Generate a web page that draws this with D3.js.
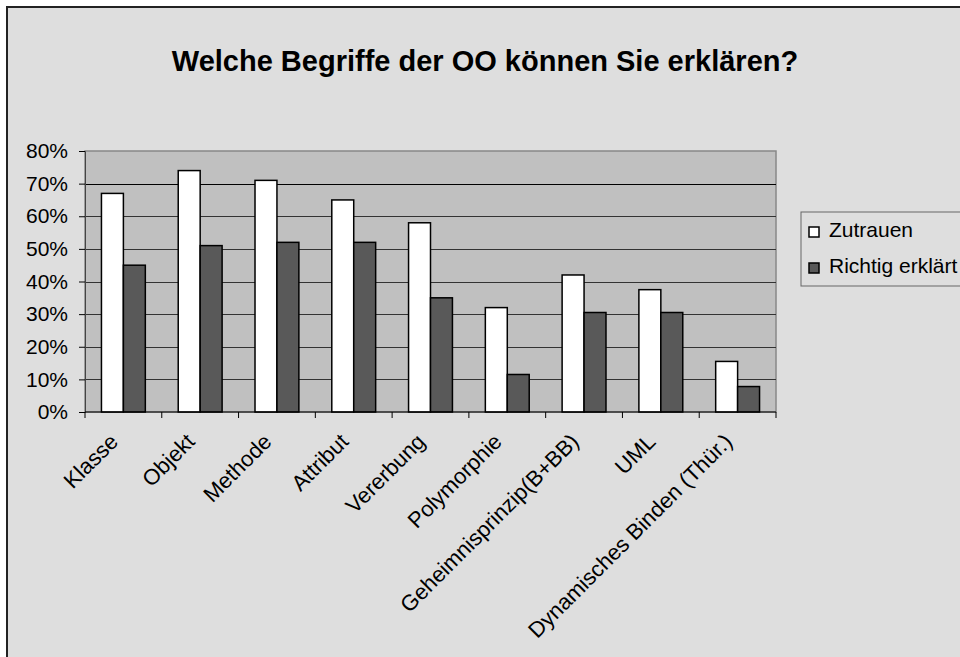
<!DOCTYPE html>
<html>
<head>
<meta charset="utf-8">
<script src="https://cdn.jsdelivr.net/npm/d3@7"></script>
<style>
  html, body { margin: 0; padding: 0; background: #ffffff; }
  svg { display: block; font-family: "Liberation Sans", Arial, sans-serif; }
</style>
</head>
<body>
<svg id="chart" width="960" height="657"></svg>
<script>
const title = "Welche Begriffe der OO können Sie erklären?";
const categories = ["Klasse", "Objekt", "Methode", "Attribut", "Vererbung", "Polymorphie",
  "Geheimnisprinzip(B+BB)", "UML", "Dynamisches Binden (Thür.)"];
const seriesNames = ["Zutrauen", "Richtig erklärt"];
const zutrauen = [0.67, 0.74, 0.71, 0.65, 0.58, 0.32, 0.42, 0.375, 0.155];
const richtig = [0.45, 0.51, 0.52, 0.52, 0.35, 0.115, 0.305, 0.305, 0.078];
const yTicks = [0, 0.1, 0.2, 0.3, 0.4, 0.5, 0.6, 0.7, 0.8];
const seriesColors = ["#ffffff", "#595959"];

const svg = d3.select("#chart");

// chart area
svg.append("rect").attr("x", 7).attr("y", 7).attr("width", 970).attr("height", 670)
  .attr("fill", "#dedede").attr("stroke", "#222").attr("stroke-width", 2);

svg.append("text").attr("x", 485).attr("y", 71).attr("text-anchor", "middle")
  .attr("font-size", 29).attr("font-weight", "bold").attr("fill", "#000").text(title);

const plot = { left: 85, top: 151, right: 776, bottom: 412 };

const x = d3.scaleBand().domain(categories).range([plot.left, plot.right]).paddingInner(0).paddingOuter(0);
const inner = d3.scaleBand().domain(seriesNames).range([0, x.bandwidth()]).paddingInner(0).paddingOuter(0.75);
const y = d3.scaleLinear().domain([0, 0.8]).range([plot.bottom, plot.top]);

svg.append("rect").attr("x", plot.left).attr("y", plot.top)
  .attr("width", plot.right - plot.left).attr("height", plot.bottom - plot.top)
  .attr("fill", "#c0c0c0").attr("stroke", "#888").attr("stroke-width", 1.5);

// gridlines
svg.append("g").selectAll("line").data(yTicks.filter(t => t > 0 && t < 0.8)).join("line")
  .attr("x1", plot.left).attr("x2", plot.right)
  .attr("y1", d => Math.round(y(d)) + 0.5).attr("y2", d => Math.round(y(d)) + 0.5)
  .attr("stroke", d => Math.abs(d - 0.7) < 1e-6 ? "#000" : "#333").attr("stroke-width", 1);

// bars
const data = [zutrauen, richtig];
const g = svg.append("g");
categories.forEach((c, i) => {
  seriesNames.forEach((s, j) => {
    g.append("rect")
      .attr("x", x(c) + inner(s))
      .attr("y", y(data[j][i]))
      .attr("width", inner.bandwidth())
      .attr("height", y(0) - y(data[j][i]))
      .attr("fill", seriesColors[j])
      .attr("stroke", "#000").attr("stroke-width", 1.5);
  });
});

// y axis
const yAxis = d3.axisLeft(y).tickValues(yTicks).tickFormat(d3.format(".0%")).tickSize(6).tickPadding(11);
const ya = svg.append("g").attr("transform", `translate(${plot.left},0)`).call(yAxis);
ya.select(".domain").attr("stroke", "#444");
ya.selectAll(".tick line").attr("stroke", "#000");
ya.selectAll("text").attr("font-size", 21).attr("fill", "#000")
  .attr("font-family", "Liberation Sans, Arial, sans-serif");

// x axis
const xa = svg.append("g").attr("transform", `translate(0,${plot.bottom})`);
xa.append("line").attr("x1", plot.left).attr("x2", plot.right).attr("y1", 0).attr("y2", 0).attr("stroke", "#000");
const bounds = categories.map(c => x(c)).concat([plot.right]);
xa.selectAll("line.tk").data(bounds).join("line").attr("class", "tk")
  .attr("x1", d => d).attr("x2", d => d).attr("y1", 0).attr("y2", 6).attr("stroke", "#000");
xa.selectAll("text").data(categories).join("text")
  .attr("transform", d => `translate(${x(d) + x.bandwidth() / 2 - 4},31) rotate(-45)`)
  .attr("text-anchor", "end").attr("font-size", 22).attr("fill", "#000")
  .text(d => d);

// legend
const lg = svg.append("g");
lg.append("rect").attr("x", 801).attr("y", 212).attr("width", 200).attr("height", 74)
  .attr("fill", "#dedede").attr("stroke", "#666").attr("stroke-width", 1);
seriesNames.forEach((s, j) => {
  const yy = 237 + j * 36;
  lg.append("rect").attr("x", 809).attr("y", yy - 10).attr("width", 10).attr("height", 10)
    .attr("fill", seriesColors[j]).attr("stroke", "#000").attr("stroke-width", 1.5);
  lg.append("text").attr("x", 829).attr("y", yy).attr("font-size", 21).attr("fill", "#000").text(s);
});
</script>
</body>
</html>
